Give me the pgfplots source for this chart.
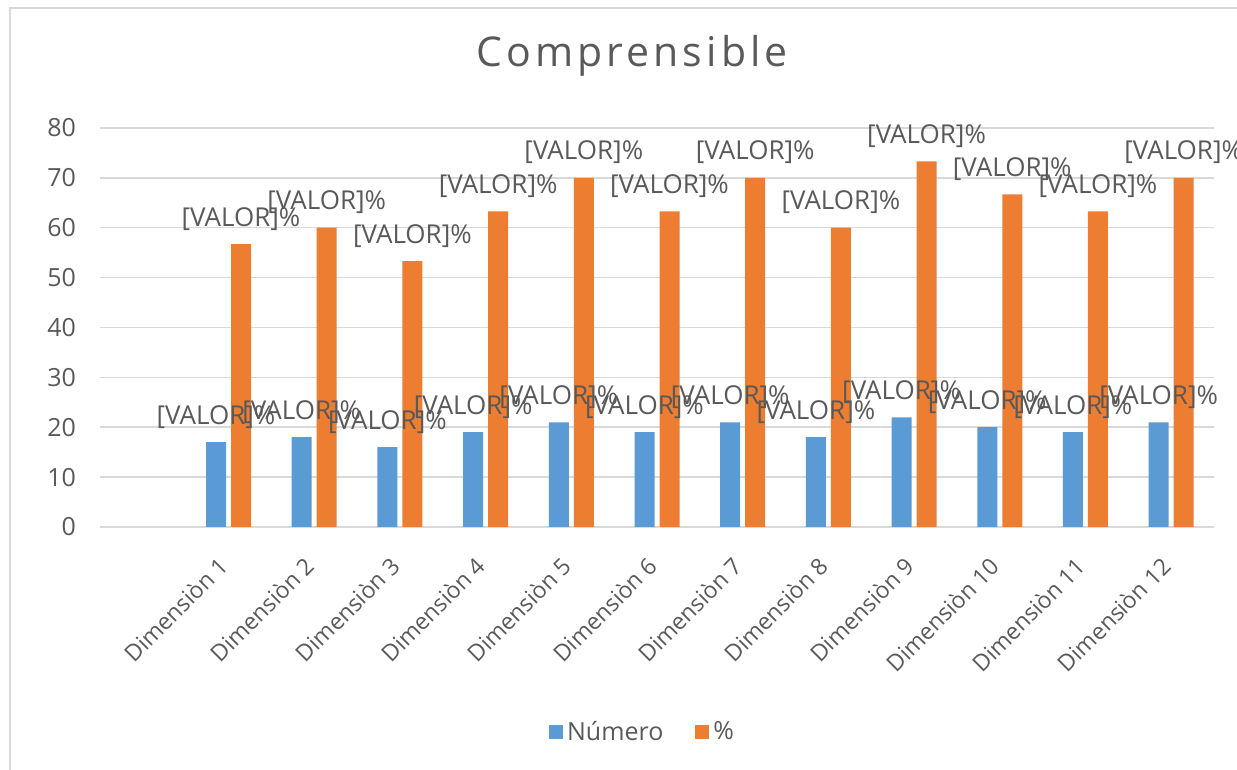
\documentclass[border=0pt]{standalone}
\usepackage{fontspec}
\setmainfont{Open Sans}
\newfontfamily\titlefont[LetterSpace=10]{Open Sans}
\usepackage{pgfplots}
\pgfplotsset{compat=1.18}
\definecolor{cblue}{HTML}{5B9BD5}
\definecolor{corange}{HTML}{ED7D31}
\definecolor{cgrid}{HTML}{D9D9D9}
\definecolor{ctext}{HTML}{595959}
\begin{document}
\begin{tikzpicture}
\useasboundingbox (0,0) rectangle (618.5pt,385pt);
\draw[cgrid, line width=0.75pt] (5pt,-20pt) rectangle (640pt,381pt);
\node[anchor=base, text=ctext, font=\titlefont\fontsize{20.5}{24}\selectfont] at (316pt,351.5pt) {Comprensible};
\begin{axis}[
  at={(50pt,121.5pt)}, anchor=south west,
  scale only axis, width=557pt, height=199.5pt,
  xmin=-0.5, xmax=12.5, ymin=0, ymax=80,
  ybar=2.5pt, bar width=10pt,
  xtick={1,2,3,4,5,6,7,8,9,10,11,12},
  xticklabels={Dimensiòn 1, Dimensiòn 2, Dimensiòn 3, Dimensiòn 4, Dimensiòn 5, Dimensiòn 6, Dimensiòn 7, Dimensiòn 8, Dimensiòn 9, Dimensiòn 10, Dimensiòn 11, Dimensiòn 12},
  ytick={0,10,20,30,40,50,60,70,80},
  ymajorgrids, grid style={cgrid, line width=0.75pt},
  axis line style={draw=none},
  tick style={draw=none},
  major tick length=0pt,
  /pgf/number format/assume math mode=true,
  yticklabel style={font=\fontsize{12.5}{14}\selectfont, text=ctext, xshift=-8.5pt},
  xticklabel style={font=\fontsize{11.5}{13}\selectfont, text=ctext, xshift=-5.5pt, yshift=-9.5pt, rotate=45, anchor=north east},
  nodes near coords={{[VALOR]\%}},
  every node near coord/.append style={font=\fontsize{13}{15}\selectfont, text=ctext, anchor=base, yshift=9pt},
  legend style={at={(0.4879,-0.5138)}, anchor=center, draw=none, fill=none, legend columns=2, font=\fontsize{12.5}{14}\selectfont, text=ctext, /tikz/every even column/.append style={column sep=14pt}},
  legend image code/.code={\fill[#1, draw=none] (-2pt,-3.5pt) rectangle (5pt,3.5pt);},
  clip=false,
]
\addplot[fill=cblue, draw=none] coordinates {(1,17) (2,18) (3,16) (4,19) (5,21) (6,19) (7,21) (8,18) (9,22) (10,20) (11,19) (12,21)};
\addplot[fill=corange, draw=none] coordinates {(1,56.7) (2,60) (3,53.3) (4,63.3) (5,70) (6,63.3) (7,70) (8,60) (9,73.3) (10,66.7) (11,63.3) (12,70)};
\legend{Número, \%}
\end{axis}
\end{tikzpicture}
\end{document}
